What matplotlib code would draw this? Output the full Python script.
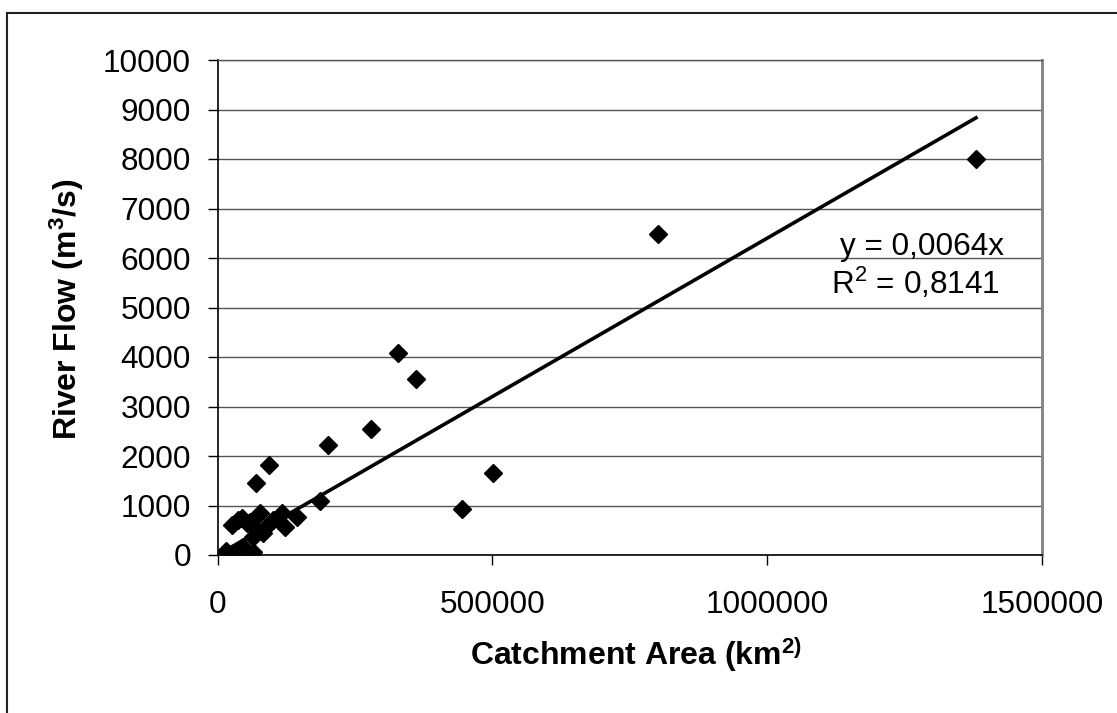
import matplotlib
matplotlib.use('Agg')
import matplotlib.pyplot as plt
from matplotlib.lines import Line2D

plt.rcParams['font.family'] = ['Liberation Sans', 'DejaVu Sans']
plt.rcParams['mathtext.fontset'] = 'custom'
plt.rcParams['mathtext.rm'] = 'Liberation Sans'
plt.rcParams['mathtext.it'] = 'Liberation Sans'
plt.rcParams['mathtext.bf'] = 'Liberation Sans:bold'

# catchment area (km2) and river flow (m3/s)
area = [15000, 28000, 65000, 47000, 65000, 83000, 26000, 44000, 59000, 77000,
        71000, 86000, 101000, 117000, 123000, 144000, 187000, 69500, 93700, 200500,
        278700, 327900, 360600, 444900, 501800, 801500, 1380000, 53000, 38000]
flow = [90, 30, 70, 170, 370, 440, 600, 740, 670, 840,
        505, 540, 710, 840, 570, 760, 1100, 1460, 1815, 2220,
        2540, 4080, 3550, 920, 1660, 6490, 7990, 640, 700]
slope = 0.0064
r2_text = '0,8141'
x_ticks = [0, 500000, 1000000, 1500000]
y_ticks = list(range(0, 10001, 1000))

fig = plt.figure(figsize=(11.17, 7.13), dpi=100)
ax = fig.add_axes([217.5 / 1117, 1 - 555 / 713, (1042 - 217.5) / 1117, (555 - 60) / 713])

# gridlines
for yv in y_ticks:
    ax.axhline(yv, color='#555555', lw=1.0, zorder=1)

ax.plot(area, flow, linestyle='none', marker='D', ms=8.8, color='black', zorder=3)

# trendline through origin
x0, x1 = min(area), max(area)
ax.plot([x0, x1], [slope * x0, slope * x1], color='black', lw=2.6, zorder=4)

ax.set_xlim(0, 1500000)
ax.set_ylim(0, 10000)
ax.set_xticks(x_ticks)
ax.set_yticks(y_ticks)
ax.set_xticklabels([str(v) for v in x_ticks])
ax.set_yticklabels([str(v) for v in y_ticks])
ax.tick_params(axis='both', labelsize=22.7, direction='out', length=7, width=1, color='black')
ax.tick_params(axis='x', pad=18)
ax.tick_params(axis='y', pad=12)

for s in ['left', 'bottom']:
    ax.spines[s].set_color('black')
    ax.spines[s].set_linewidth(1.2)
ax.spines['right'].set_color('#808080')
ax.spines['right'].set_linewidth(2)
ax.spines['top'].set_color('#555555')
ax.spines['top'].set_linewidth(1)

ax.text(0.954, 0.622, 'y = 0,0064x', transform=ax.transAxes, ha='right', va='center', fontsize=22.7)
ax.text(0.949, 0.548, r'R$^{2}$ = ' + r2_text, transform=ax.transAxes, ha='right', va='center', fontsize=22.7)

fig.text(636 / 1117, 1 - 655 / 713, r'Catchment Area (km$^{\mathbf{2)}}$', ha='center', va='center',
         fontsize=23, fontweight='bold')
fig.text(67 / 1117, 1 - 309 / 713, r'River Flow (m$^{\mathbf{3}}$/s)', ha='center', va='center',
         fontsize=23, fontweight='bold', rotation=90)

# outer chart border
fig.add_artist(Line2D([7 / 1117, 1.0], [1 - 13 / 713, 1 - 13 / 713], color='#222222', lw=1.5))
fig.add_artist(Line2D([7 / 1117, 7 / 1117], [0.0, 1 - 13 / 713], color='#222222', lw=1.5))

fig.savefig('out.png', dpi=100)
